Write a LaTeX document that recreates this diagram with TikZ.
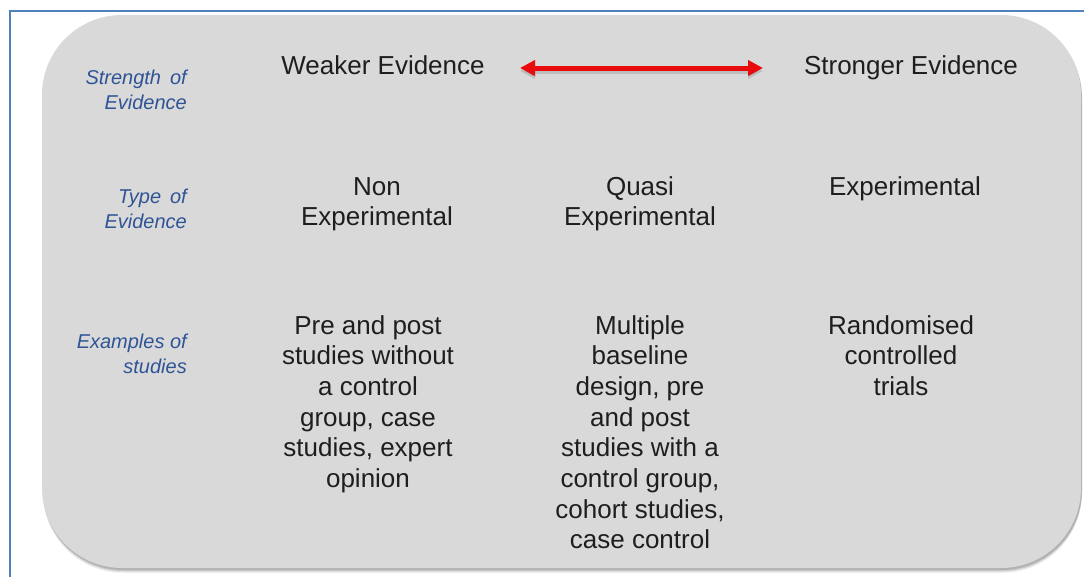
\documentclass[tikz,border=0pt]{standalone}
\usepackage{fontspec}
\setmainfont{Liberation Sans}
\usetikzlibrary{arrows.meta}
\definecolor{panel}{RGB}{217,217,217}
\definecolor{frameblue}{RGB}{79,129,189}
\definecolor{labelblue}{RGB}{47,84,150}
\definecolor{arrowred}{RGB}{232,12,12}
\definecolor{maintextcol}{RGB}{30,30,30}
\begin{document}
\begin{tikzpicture}[x=1pt,y=-1pt,
  maintext/.style={font=\fontsize{26}{30.7}\selectfont, text=maintextcol, align=center, inner sep=0pt, anchor=base},
  rowlabel/.style={font=\fontsize{20}{25.5}\selectfont\itshape, text=labelblue, align=right, anchor=base east, inner sep=0pt},
  panelshape/.style={rounded corners=80pt},
  redarrow/.style={arrowred, line width=5pt, {Triangle[length=15pt,width=15pt]}-{Triangle[length=15pt,width=15pt]}}]
\useasboundingbox (0,0) rectangle (1084,576);
\fill[white] (0,0) rectangle (1084,576);
% frame
\draw[frameblue, line width=2pt] (10,577) -- (10,11) -- (1085,11);
% shadow
\foreach \o/\op in {5/0.05,4/0.07,3/0.09,2/0.12}{
  \fill[black, opacity=\op, panelshape] (43,15+\o) rectangle (1082,568+\o);
}
% panel
\fill[panel, panelshape] (42,15) rectangle (1081,568);
% row labels (anchored at the baseline of the last line)
\node[rowlabel] (l1) at (187,109.5) {Strength\hspace{9pt}of\\Evidence};
\node[rowlabel] (l2) at (187,228.5) {Type\hspace{9pt}of\\Evidence};
\node[rowlabel] (l3) at (187,373.5) {Examples of\\studies};
% header
\node[maintext] (weak) at (383,74) {Weaker Evidence};
\node[maintext] (strong) at (911,74) {Stronger Evidence};
\coordinate (al) at (520,68);
\coordinate (ar) at (763,68);
\draw[redarrow, black, draw opacity=0.12, fill opacity=0.12] ([yshift=-3pt]al) -- ([yshift=-3pt]ar);
\draw[redarrow] (al) -- (ar);
% type row
\node[maintext] (t1) at (377,225.7) {Non\\Experimental};
\node[maintext] (t2) at (640,225.7) {Quasi\\Experimental};
\node[maintext] (t3) at (905,195) {Experimental};
% examples row
\node[maintext] (e1) at (368,487.5) {Pre and post\\studies without\\a control\\group, case\\studies, expert\\opinion};
\node[maintext] (e2) at (640,548.9) {Multiple\\baseline\\design, pre\\and post\\studies with a\\control group,\\cohort studies,\\case control};
\node[maintext] (e3) at (901,395.4) {Randomised\\controlled\\trials};
\end{tikzpicture}
\end{document}
